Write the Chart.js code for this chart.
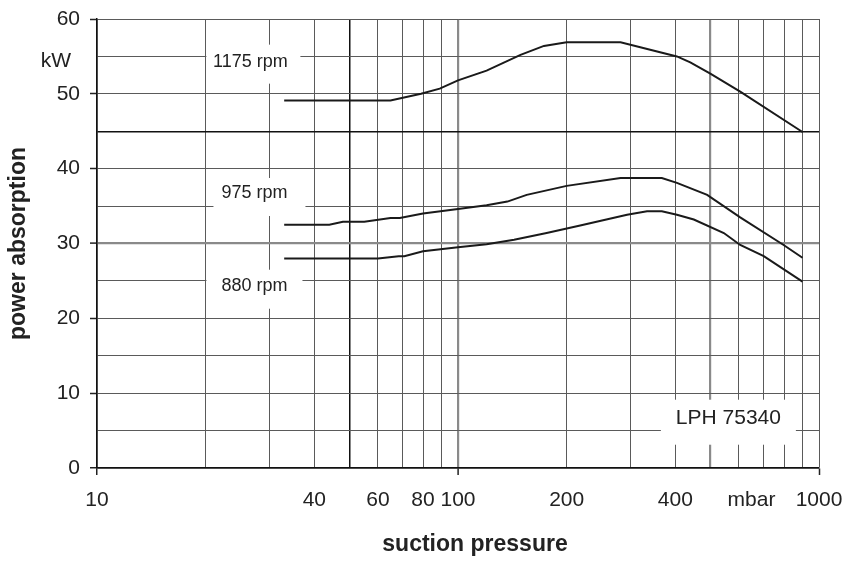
<!DOCTYPE html>
<html><head><meta charset="utf-8">
<script src="https://cdn.jsdelivr.net/npm/chart.js@4/dist/chart.umd.min.js"></script>
<style>html,body{margin:0;padding:0;background:#fff}canvas{display:block}</style>
</head><body>
<canvas id="c" width="848" height="561"></canvas>
<script>
// ---- data ----
const seriesNames = ['1175 rpm', '975 rpm', '880 rpm'];
const p1175 = [33, 65, 79, 89, 100, 120, 149, 173, 200, 282, 404, 440, 500, 605, 900];
const kW1175 = [49.1, 49.1, 50.0, 50.7, 51.8, 53.1, 55.2, 56.4, 56.9, 56.9, 55.0, 54.2, 52.7, 50.3, 44.9];
const p975 = [33, 44, 48, 55, 65, 69, 80, 100, 120, 137, 155, 200, 282, 367, 404, 490, 605, 798, 900];
const kW975 = [32.5, 32.5, 32.9, 32.9, 33.4, 33.4, 34.0, 34.6, 35.1, 35.6, 36.5, 37.7, 38.75, 38.75, 38.1, 36.5, 33.5, 29.8, 28.1];
const p880 = [33, 60, 68.5, 71, 80, 100, 120, 143, 176, 218, 294, 334, 367, 404, 450, 545, 605, 703, 900];
const kW880 = [28.0, 28.0, 28.3, 28.3, 28.95, 29.5, 29.9, 30.5, 31.4, 32.4, 33.85, 34.3, 34.3, 33.85, 33.2, 31.4, 29.8, 28.3, 24.9];

const xGridValues = [10,20,30,40,50,60,70,80,90,100,200,300,400,500,600,700,800,900,1000];
const xLabelValues = [10, 40, 60, 80, 100, 200, 400, 650, 1000];
const xLabelTexts = ['10', '40', '60', '80', '100', '200', '400', 'mbar', '1000'];
const yGridValues = [0,5,10,15,20,25,30,35,40,45,50,55,60];
const yUnit = 'kW';
const yUnitAt = 55;
const modelName = 'LPH 75340';
const xTitle = 'suction pressure';
const yTitle = 'power absorption';

// ---- label placement (in data units) and box styling ----
const labelBoxes = [
  {text: seriesNames[0], x: 26.6, y: 54.3, w: 94, h: 39, dx: 3, dy: 2.5, size: 18},
  {text: seriesNames[1], x: 27.3, y: 36.75, w: 92, h: 38, dx: 5, dy: 4, size: 18},
  {text: seriesNames[2], x: 27.3, y: 24.36, w: 96, h: 39, dx: 0, dy: 3.5, size: 18},
  {text: modelName, x: 561, y: 6.72, w: 135, h: 45, dx: 0, dy: 4.5, size: 21}
];

const FONT = "'Liberation Sans', Arial, Helvetica, sans-serif";
const INK = '#222';

const toPts = (xs, ys) => xs.map((v, i) => ({x: v, y: ys[i]}));

function gridColor(v, dark, light) {
  if (dark.includes(v)) return '#111';
  if (light.includes(v)) return '#8a8a8a';
  return '#5a5a5a';
}
function gridWidth(v, dark, light) {
  if (dark.includes(v)) return 1.5;
  if (light.includes(v)) return 2.2;
  return 1;
}
function noPadX(s) { s.paddingLeft = 0; s.paddingRight = 0; }
function noPadY(s) { s.paddingTop = 0; s.paddingBottom = 0; }

const annot = {
  id: 'annot',
  beforeDatasetsDraw(chart) {
    const {ctx, scales: {x, y}} = chart;
    ctx.save();
    for (const L of labelBoxes) {
      const px = x.getPixelForValue(L.x), py = y.getPixelForValue(L.y);
      ctx.fillStyle = '#fff';
      ctx.fillRect(px + L.dx - L.w / 2, py + L.dy - L.h / 2, L.w, L.h);
      ctx.fillStyle = INK;
      ctx.font = L.size + 'px ' + FONT;
      ctx.textAlign = 'center';
      ctx.textBaseline = 'middle';
      ctx.fillText(L.text, px, py);
    }
    ctx.restore();
  },
  afterDraw(chart) {
    const {ctx, chartArea, scales: {y}} = chart;
    ctx.save();
    ctx.fillStyle = INK;
    ctx.textBaseline = 'middle';
    ctx.textAlign = 'center';
    ctx.font = '21px ' + FONT;
    ctx.fillText(yUnit, chartArea.left - 41, y.getPixelForValue(yUnitAt) + 5);
    ctx.font = 'bold 23px ' + FONT;
    ctx.fillText(xTitle, (chartArea.left + chartArea.right) / 2 + 17, chart.height - 16);
    ctx.restore();
  }
};

new Chart(document.getElementById('c'), {
  type: 'line',
  data: {
    datasets: [
      {label: seriesNames[0], data: toPts(p1175, kW1175)},
      {label: seriesNames[1], data: toPts(p975, kW975)},
      {label: seriesNames[2], data: toPts(p880, kW880)}
    ].map(d => Object.assign(d, {
      borderColor: '#1a1a1a', borderWidth: 2, pointRadius: 0, tension: 0, fill: false,
      xAxisID: 'x', yAxisID: 'y'
    }))
  },
  options: {
    responsive: false,
    animation: false,
    devicePixelRatio: 1,
    layout: {padding: {left: 0, top: 19, right: 29, bottom: 0}},
    plugins: {legend: {display: false}, tooltip: {enabled: false}},
    scales: {
      x: {
        type: 'logarithmic', position: 'bottom', min: 10, max: 1000, weight: 0,
        afterBuildTicks: s => { s.ticks = xGridValues.map(v => ({value: v})); },
        afterFit: s => { s.height = 7; noPadX(s); },
        ticks: {display: false, autoSkip: false},
        grid: {
          color: c => gridColor(c.tick.value, [10, 50], [100, 500]),
          lineWidth: c => gridWidth(c.tick.value, [10, 50], [100, 500]),
          tickLength: 7,
          tickWidth: 1.5,
          tickColor: c => [10, 100, 1000].includes(c.tick.value) ? '#222' : 'rgba(0,0,0,0)'
        },
        border: {color: '#111', width: 1.5}
      },
      xLab: {
        type: 'logarithmic', position: 'bottom', min: 10, max: 1000, weight: 1,
        afterBuildTicks: s => { s.ticks = xLabelValues.map(v => ({value: v})); },
        afterFit: s => { s.height = 86; noPadX(s); },
        ticks: {
          autoSkip: false, maxRotation: 0, padding: 13, color: INK,
          font: {family: FONT, size: 21},
          callback: (v, i) => xLabelTexts[i]
        },
        grid: {display: false, drawTicks: false},
        border: {display: false}
      },
      y: {
        type: 'linear', min: 0, max: 60,
        afterBuildTicks: s => { s.ticks = yGridValues.map(v => ({value: v})); },
        afterFit: s => { s.width = 97; noPadY(s); },
        ticks: {
          autoSkip: false, padding: 10, color: INK,
          font: {family: FONT, size: 21},
          callback: v => (v % 10 === 0 ? String(v) : '')
        },
        grid: {
          color: c => gridColor(c.tick.value, [0, 45], [30]),
          lineWidth: c => gridWidth(c.tick.value, [0, 45], [30]),
          tickLength: 7,
          tickWidth: 1.5,
          tickColor: c => (c.tick.value % 10 === 0 ? '#222' : 'rgba(0,0,0,0)')
        },
        border: {color: '#111', width: 1.5},
        title: {
          display: true, text: yTitle, color: INK,
          font: {family: FONT, size: 23, weight: 'bold'},
          padding: {top: 5, bottom: 0}
        }
      }
    }
  },
  plugins: [annot]
});
</script>
</body></html>
